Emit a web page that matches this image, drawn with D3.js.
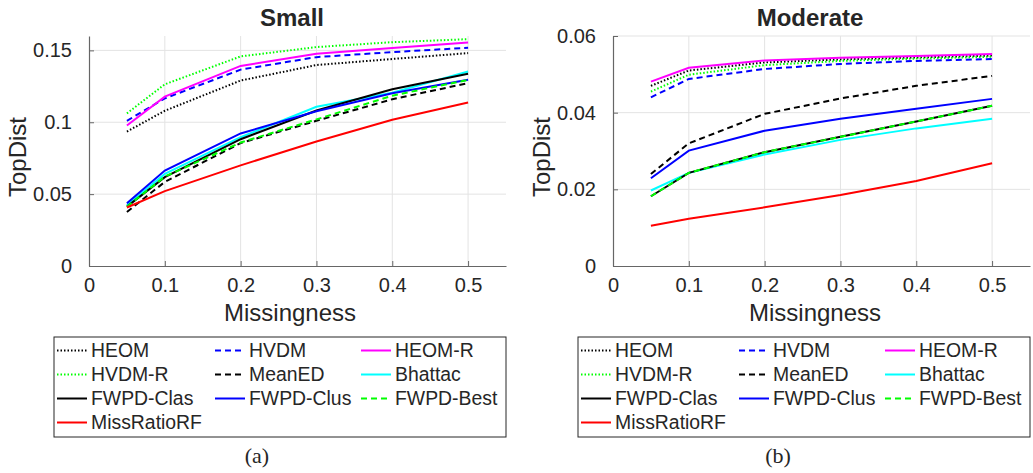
<!DOCTYPE html>
<html>
<head>
<meta charset="utf-8">
<script src="https://cdn.jsdelivr.net/npm/d3@7"></script>
<style>
  body { margin: 0; background: #fff; }
  svg text { font-family: "Liberation Sans", Arial, sans-serif; fill: #262626; }
</style>
</head>
<body>
<div id="main"></div>
<script>
// missingness levels
var missingness = [0.05, 0.1, 0.2, 0.3, 0.4, 0.5];

var methods = ["HEOM", "HVDM", "HEOM-R", "HVDM-R", "MeanED", "Bhattac",
               "FWPD-Clas", "FWPD-Clus", "FWPD-Best", "MissRatioRF"];

// TopDist, Small panel (same order as methods)
var smallTopDist = [
  [0.0935, 0.1080, 0.1290, 0.1398, 0.1440, 0.1481],
  [0.1010, 0.1166, 0.1366, 0.1453, 0.1488, 0.1518],
  [0.0977, 0.1178, 0.1392, 0.1476, 0.1516, 0.1555],
  [0.1062, 0.1264, 0.1458, 0.1523, 0.1557, 0.1578],
  [0.0376, 0.0585, 0.0855, 0.1010, 0.1160, 0.1272],
  [0.0425, 0.0641, 0.0896, 0.1108, 0.1205, 0.1353],
  [0.0413, 0.0618, 0.0882, 0.1082, 0.1230, 0.1338],
  [0.0436, 0.0664, 0.0922, 0.1076, 0.1202, 0.1295],
  [0.0412, 0.0622, 0.0859, 0.1020, 0.1185, 0.1295],
  [0.0407, 0.0521, 0.0700, 0.0866, 0.1017, 0.1137]
];

// TopDist, Moderate panel
var moderateTopDist = [
  [0.0470, 0.0510, 0.0531, 0.0539, 0.0544, 0.0549],
  [0.0440, 0.0488, 0.0514, 0.0527, 0.0535, 0.0540],
  [0.0481, 0.0517, 0.0536, 0.0543, 0.0548, 0.0553],
  [0.0455, 0.0499, 0.0524, 0.0535, 0.0541, 0.0546],
  [0.0240, 0.0320, 0.0397, 0.0437, 0.0470, 0.0496],
  [0.0197, 0.0243, 0.0291, 0.0329, 0.0359, 0.0384],
  [0.0182, 0.0243, 0.0297, 0.0337, 0.0377, 0.0418],
  [0.0229, 0.0301, 0.0353, 0.0384, 0.0410, 0.0436],
  [0.0182, 0.0243, 0.0297, 0.0337, 0.0377, 0.0418],
  [0.0105, 0.0123, 0.0153, 0.0185, 0.0222, 0.0268]
];

var xTicks = [0, 0.1, 0.2, 0.3, 0.4, 0.5];
var smallYTicks = [0, 0.05, 0.1, 0.15];
var moderateYTicks = [0, 0.02, 0.04, 0.06];

// line styles per method
var colors = ["#000000", "#0000ff", "#ff00ff", "#00ff00", "#000000", "#00ffff",
              "#000000", "#0000ff", "#00ff00", "#ff0000"];
var dashes = ["1.5,2", "6,4", null, "1.5,2", "6,4", null, null, null, "6,4", null];

var width = 1033, height = 473;
var svg = d3.select("#main").append("svg")
  .attr("width", width)
  .attr("height", height);

var panels = [
  { title: "Small", values: smallTopDist, yTicks: smallYTicks, yMax: 0.16,
    left: 89, titleX: 292, xLabelX: 290, caption: "(a)", captionX: 257,
    yFormat: function (d) { return d === 0 ? "0" : String(d); } },
  { title: "Moderate", values: moderateTopDist, yTicks: moderateYTicks, yMax: 0.06,
    left: 613, titleX: 810, xLabelX: 815, caption: "(b)", captionX: 778,
    yFormat: function (d) { return d === 0 ? "0" : d.toFixed(2); } }
];

var plotTop = 36, plotBottom = 266, plotW = 417;

panels.forEach(function (p) {
  var x = d3.scaleLinear().domain([0, 0.55]).range([p.left, p.left + plotW]);
  var y = d3.scaleLinear().domain([0, p.yMax]).range([plotBottom, plotTop]);
  var g = svg.append("g");

  // grid
  g.selectAll(".gx").data(xTicks.filter(function (d) { return d > 0; }))
    .enter().append("line")
    .attr("x1", function (d) { return x(d); }).attr("x2", function (d) { return x(d); })
    .attr("y1", plotTop).attr("y2", plotBottom)
    .attr("stroke", "#e3e3e3").attr("stroke-width", 1);
  g.selectAll(".gy").data(p.yTicks.filter(function (d) { return d > 0; }))
    .enter().append("line")
    .attr("x1", p.left).attr("x2", p.left + plotW)
    .attr("y1", function (d) { return y(d); }).attr("y2", function (d) { return y(d); })
    .attr("stroke", "#e3e3e3").attr("stroke-width", 1);

  // axes
  var xAxis = d3.axisBottom(x).tickValues(xTicks).tickSizeInner(-5).tickSizeOuter(0)
    .tickPadding(16).tickFormat(function (d) { return d === 0 ? "0" : String(d); });
  var gx = g.append("g").attr("transform", "translate(0," + plotBottom + ")").call(xAxis);
  var yAxis = d3.axisLeft(y).tickValues(p.yTicks).tickSizeInner(-5).tickSizeOuter(0)
    .tickPadding(17).tickFormat(p.yFormat);
  var gy = g.append("g").attr("transform", "translate(" + p.left + ",0)").call(yAxis);
  [gx, gy].forEach(function (a) {
    a.select(".domain").attr("stroke", "#666").attr("stroke-width", 1.2);
    a.selectAll(".tick line").attr("stroke", "#666");
    a.selectAll("text").style("font-size", "20px")
      .style("font-family", "'Liberation Sans', Arial, sans-serif").attr("fill", "#262626");
  });
  gx.selectAll("text").attr("dy", "0.5em");

  // series
  var line = d3.line()
    .x(function (d, i) { return x(missingness[i]); })
    .y(function (d) { return y(d); });
  p.values.forEach(function (vals, k) {
    g.append("path")
      .attr("d", line(vals))
      .attr("fill", "none")
      .attr("stroke", colors[k])
      .attr("stroke-width", 2)
      .attr("stroke-dasharray", dashes[k]);
  });

  // labels
  g.append("text").attr("x", p.titleX).attr("y", 26)
    .attr("text-anchor", "middle").style("font-size", "24px").style("font-weight", "bold")
    .text(p.title);
  g.append("text").attr("x", p.xLabelX).attr("y", 321)
    .attr("text-anchor", "middle").style("font-size", "24px")
    .text("Missingness");
  g.append("text")
    .attr("transform", "translate(" + (p.left - 72) + ",157) rotate(-90)")
    .attr("text-anchor", "middle").attr("dy", "0.36em").style("font-size", "24px")
    .text("TopDist");

  // legend
  var lx = p.left - 35, ly = 337;
  var leg = g.append("g").attr("transform", "translate(" + lx + "," + ly + ")");
  leg.append("rect").attr("width", 452).attr("height", 100)
    .attr("fill", "#fff").attr("stroke", "#262626").attr("stroke-width", 1);
  var colX = [3, 161, 307];
  methods.forEach(function (m, k) {
    var cx = colX[k % 3], cy = 13.5 + 24 * Math.floor(k / 3);
    leg.append("line").attr("x1", cx).attr("x2", cx + 30)
      .attr("y1", cy).attr("y2", cy)
      .attr("stroke", colors[k]).attr("stroke-width", 2)
      .attr("stroke-dasharray", dashes[k]);
    leg.append("text").attr("x", cx + 34).attr("y", cy).attr("dy", "0.36em")
      .style("font-size", "19.4px").text(m);
  });

  g.append("text").attr("x", p.captionX).attr("y", 463)
    .attr("text-anchor", "middle")
    .style("font-family", "'Liberation Serif', 'DejaVu Serif', serif")
    .style("font-size", "22px").attr("fill", "#000")
    .text(p.caption);
});
</script>
</body>
</html>
